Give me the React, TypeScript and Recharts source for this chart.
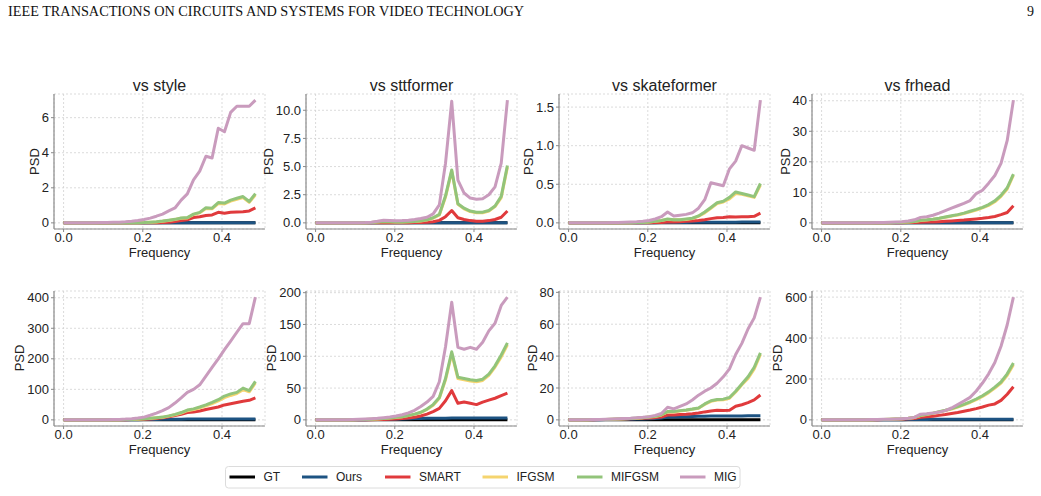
import React from "react";
import { LineChart, Line, XAxis, YAxis, CartesianGrid } from "recharts";

const FONT = "'Liberation Sans', Arial, sans-serif";
const SERIF = "'Liberation Serif', 'Times New Roman', serif";

// normalised frequency bins (rfft of a 64-sample window)
const freq = [0, 0.0156, 0.0313, 0.0469, 0.0625, 0.0781, 0.0938, 0.1094, 0.125, 0.1406, 0.1563, 0.1719, 0.1875, 0.2031, 0.2188, 0.2344, 0.25, 0.2656, 0.2813, 0.2969, 0.3125, 0.3281, 0.3438, 0.3594, 0.375, 0.3906, 0.4063, 0.4219, 0.4375, 0.4531, 0.4688, 0.4844];
const freqTicks = [0, 0.2, 0.4];

const gt = [0, 0, 0, 0, 0, 0, 0, 0, 0, 0, 0, 0, 0, 0, 0, 0, 0, 0, 0, 0, 0, 0, 0, 0, 0, 0, 0, 0, 0, 0, 0, 0];

// top row
const s1Ours = [0, 0, 0, 0, 0, 0, 0, 0, 0, 0, 0, 0, 0, 0, 0, 0, 0.01, 0.01, 0.01, 0.01, 0.01, 0.01, 0.01, 0.01, 0.01, 0.01, 0.01, 0.01, 0.01, 0.01, 0.01, 0.01];
const s1Smart = [0, 0, 0, 0, 0, 0, 0, 0, 0, 0, 0, 0, 0, 0, 0.005, 0.01, 0.02, 0.04, 0.08, 0.13, 0.18, 0.3, 0.35, 0.42, 0.45, 0.6, 0.55, 0.6, 0.62, 0.64, 0.68, 0.85];
const s1Ifgsm = [0, 0, 0, 0, 0, 0, 0, 0, 0, 0, 0, 0.005, 0.01, 0.02, 0.035, 0.055, 0.09, 0.14, 0.19, 0.26, 0.28, 0.48, 0.57, 0.82, 0.8, 1.1, 1.08, 1.24, 1.35, 1.44, 1.17, 1.6];
const s1Mifgsm = [0, 0, 0, 0, 0, 0, 0, 0, 0, 0, 0, 0.005, 0.01, 0.02, 0.04, 0.06, 0.1, 0.15, 0.2, 0.28, 0.3, 0.5, 0.6, 0.86, 0.84, 1.16, 1.13, 1.3, 1.4, 1.5, 1.22, 1.67];
const s1Mig = [0.01, 0.01, 0.01, 0.01, 0.01, 0.01, 0.015, 0.02, 0.03, 0.04, 0.06, 0.09, 0.13, 0.19, 0.27, 0.38, 0.5, 0.68, 0.85, 1.3, 1.65, 2.45, 2.95, 3.8, 3.7, 5.4, 5.2, 6.3, 6.65, 6.65, 6.65, 7.0];

const t1Ours = [0, 0, 0, 0, 0, 0, 0, 0, 0, 0, 0.01, 0.01, 0.01, 0.01, 0.01, 0.01, 0.01, 0.01, 0.01, 0.01, 0.01, 0.01, 0.01, 0.01, 0.01, 0.01, 0.01, 0.01, 0.01, 0.01, 0.01, 0.01];
const t1Smart = [0, 0, 0, 0, 0, 0, 0, 0, 0, 0, 0.005, 0.01, 0.01, 0.01, 0.01, 0.02, 0.03, 0.04, 0.06, 0.1, 0.22, 0.55, 1.1, 0.45, 0.3, 0.2, 0.15, 0.15, 0.2, 0.3, 0.5, 1.05];
const t1Ifgsm = [0, 0, 0, 0, 0, 0, 0, 0.01, 0.02, 0.03, 0.07, 0.11, 0.09, 0.07, 0.07, 0.09, 0.11, 0.17, 0.26, 0.42, 0.7, 2.3, 4.6, 1.65, 1.25, 1.0, 0.9, 0.9, 1.05, 1.45, 2.25, 4.95];
const t1Mifgsm = [0, 0, 0, 0, 0, 0, 0, 0.01, 0.02, 0.04, 0.08, 0.12, 0.1, 0.08, 0.08, 0.1, 0.12, 0.18, 0.28, 0.45, 0.75, 2.4, 4.7, 1.7, 1.3, 1.05, 0.95, 0.95, 1.1, 1.5, 2.35, 5.1];
const t1Mig = [0.01, 0.01, 0.01, 0.01, 0.01, 0.01, 0.01, 0.02, 0.03, 0.06, 0.14, 0.24, 0.22, 0.18, 0.2, 0.24, 0.3, 0.38, 0.5, 0.8, 1.6, 5.3, 10.8, 3.8, 2.65, 2.2, 2.1, 2.15, 2.5, 3.2, 5.3, 10.9];

const k1Ours = [0, 0, 0, 0, 0, 0, 0, 0, 0, 0, 0, 0, 0, 0.002, 0.003, 0.004, 0.005, 0.005, 0.006, 0.006, 0.007, 0.007, 0.008, 0.008, 0.008, 0.009, 0.009, 0.009, 0.01, 0.01, 0.01, 0.01];
const k1Smart = [0, 0, 0, 0, 0, 0, 0, 0, 0, 0, 0, 0, 0, 0.002, 0.004, 0.005, 0.01, 0.01, 0.015, 0.02, 0.025, 0.03, 0.04, 0.055, 0.065, 0.07, 0.08, 0.075, 0.08, 0.08, 0.085, 0.125];
const k1Ifgsm = [0, 0, 0, 0, 0, 0, 0, 0, 0, 0, 0.002, 0.004, 0.006, 0.01, 0.02, 0.03, 0.045, 0.04, 0.04, 0.045, 0.055, 0.085, 0.13, 0.19, 0.25, 0.27, 0.31, 0.38, 0.37, 0.35, 0.33, 0.49];
const k1Mifgsm = [0, 0, 0, 0, 0, 0, 0, 0, 0, 0, 0.002, 0.004, 0.006, 0.01, 0.02, 0.03, 0.05, 0.04, 0.04, 0.05, 0.06, 0.09, 0.14, 0.2, 0.26, 0.28, 0.33, 0.4, 0.38, 0.36, 0.34, 0.51];
const k1Mig = [0, 0, 0, 0, 0, 0.002, 0.003, 0.004, 0.006, 0.009, 0.012, 0.016, 0.022, 0.03, 0.05, 0.08, 0.14, 0.09, 0.1, 0.11, 0.13, 0.19, 0.3, 0.52, 0.5, 0.48, 0.7, 0.8, 1.0, 0.97, 0.94, 1.59];

const f1Ours = [0, 0, 0, 0, 0, 0, 0, 0, 0, 0, 0.01, 0.01, 0.02, 0.02, 0.03, 0.03, 0.04, 0.04, 0.04, 0.05, 0.05, 0.05, 0.05, 0.05, 0.05, 0.05, 0.05, 0.05, 0.05, 0.05, 0.05, 0.05];
const f1Smart = [0, 0, 0, 0, 0, 0, 0, 0, 0, 0, 0.01, 0.02, 0.03, 0.05, 0.08, 0.12, 0.2, 0.25, 0.32, 0.4, 0.5, 0.62, 0.75, 0.9, 1.1, 1.3, 1.5, 1.75, 2.1, 2.7, 3.4, 5.6];
const f1Ifgsm = [0, 0, 0, 0, 0, 0, 0, 0.01, 0.02, 0.03, 0.05, 0.07, 0.1, 0.16, 0.26, 0.42, 0.8, 0.95, 1.15, 1.45, 1.85, 2.2, 2.6, 3.05, 3.6, 4.2, 4.9, 5.7, 6.9, 8.7, 11.1, 15.6];
const f1Mifgsm = [0, 0, 0, 0, 0, 0, 0, 0.01, 0.02, 0.03, 0.05, 0.07, 0.1, 0.17, 0.28, 0.45, 0.85, 1.0, 1.2, 1.5, 1.9, 2.3, 2.7, 3.2, 3.8, 4.4, 5.1, 6.0, 7.2, 9.0, 11.5, 16.0];
const f1Mig = [0, 0, 0, 0, 0.01, 0.02, 0.03, 0.05, 0.07, 0.1, 0.14, 0.2, 0.28, 0.4, 0.6, 1.0, 1.8, 2.0, 2.5, 3.2, 4.0, 4.8, 5.6, 6.4, 7.3, 9.6, 10.7, 13.0, 15.5, 19.5, 27.0, 40.2];

// bottom row
const s2Ours = [0, 0, 0, 0, 0, 0.05, 0.1, 0.15, 0.2, 0.3, 0.4, 0.5, 0.7, 0.9, 1.1, 1.4, 1.8, 2.0, 2.2, 2.4, 2.5, 2.6, 2.7, 2.8, 2.9, 3.0, 3.0, 3.0, 3.1, 3.1, 3.2, 3.2];
const s2Smart = [0, 0, 0, 0, 0, 0.05, 0.1, 0.15, 0.2, 0.3, 0.5, 0.8, 1.2, 2.0, 3.0, 4.5, 7.0, 10, 14, 18, 24, 26, 29, 34, 38, 42, 49, 53, 57, 61, 64, 72];
const s2Ifgsm = [0, 0, 0, 0, 0, 0.05, 0.1, 0.15, 0.25, 0.5, 0.9, 1.4, 2.3, 3.3, 4.7, 6.6, 8.5, 12.3, 16.5, 22.5, 30, 34, 39, 46, 53, 62, 73, 80, 86, 99, 92, 121];
const s2Mifgsm = [0, 0, 0, 0, 0, 0.05, 0.1, 0.2, 0.3, 0.6, 1.0, 1.5, 2.5, 3.5, 5.0, 7.0, 9.0, 13, 18, 24, 32, 36, 42, 49, 57, 66, 78, 85, 90, 104, 96, 126];
const s2Mig = [0, 0, 0, 0, 0.1, 0.2, 0.4, 0.6, 1.0, 1.5, 2.5, 4, 6, 9, 15, 22, 30, 40, 55, 72, 90, 100, 115, 143, 172, 200, 230, 258, 287, 315, 315, 402];

const t2Ours = [0, 0, 0, 0, 0.05, 0.1, 0.15, 0.2, 0.3, 0.4, 0.5, 0.7, 0.9, 1.1, 1.4, 1.7, 2.0, 2.2, 2.4, 2.5, 2.6, 2.7, 2.8, 2.8, 2.9, 2.9, 3.0, 3.0, 3.0, 3.0, 3.1, 3.1];
const t2Smart = [0, 0, 0, 0, 0, 0.05, 0.1, 0.15, 0.2, 0.3, 0.5, 0.7, 1.0, 1.5, 2.0, 3.0, 4.0, 6.0, 9.0, 13, 18, 30, 46, 26, 28, 26, 24, 28, 31, 34, 38, 42];
const t2Ifgsm = [0.1, 0.1, 0.1, 0.1, 0.1, 0.2, 0.3, 0.5, 0.7, 1.0, 1.5, 2.1, 2.9, 3.8, 4.8, 6.7, 8.6, 11.5, 16.3, 23, 34, 63, 104, 65, 63, 61, 60, 62, 70, 83, 99, 118];
const t2Mifgsm = [0.1, 0.1, 0.1, 0.1, 0.1, 0.2, 0.3, 0.5, 0.7, 1.1, 1.6, 2.2, 3.0, 4.0, 5.0, 7.0, 9.0, 12, 17, 24, 35, 65, 107, 67, 65, 63, 62, 64, 72, 85, 102, 121];
const t2Mig = [0.1, 0.1, 0.1, 0.1, 0.2, 0.3, 0.5, 0.8, 1.2, 1.8, 2.5, 3.5, 4.5, 6, 8, 11, 15, 21, 28, 37, 60, 115, 185, 114, 111, 114, 111, 122, 140, 152, 180, 193];

const k2Ours = [0, 0.02, 0.04, 0.06, 0.08, 0.1, 0.15, 0.2, 0.25, 0.3, 0.4, 0.5, 0.6, 0.7, 0.9, 1.2, 1.8, 1.8, 1.9, 2.0, 2.1, 2.2, 2.3, 2.4, 2.5, 2.5, 2.5, 2.5, 2.5, 2.6, 2.6, 2.6];
const k2Smart = [0, 0.02, 0.04, 0.07, 0.1, 0.15, 0.22, 0.3, 0.4, 0.5, 0.65, 0.8, 1.0, 1.2, 1.4, 1.8, 3.0, 3.0, 3.3, 3.5, 3.8, 4.3, 5.0, 5.6, 6.0, 5.8, 6.0, 8.5, 9.5, 10.8, 12.5, 15.6];
const k2Ifgsm = [0, 0.02, 0.05, 0.1, 0.15, 0.2, 0.3, 0.4, 0.53, 0.68, 0.87, 1.07, 1.36, 1.75, 2.15, 3.1, 5.0, 5.0, 5.6, 6.0, 6.6, 7.3, 9.7, 11.6, 12.4, 12.6, 13.6, 17.5, 22, 26, 32, 41];
const k2Mifgsm = [0, 0.02, 0.05, 0.1, 0.15, 0.2, 0.3, 0.4, 0.55, 0.7, 0.9, 1.1, 1.4, 1.8, 2.2, 3.2, 5.2, 5.2, 5.8, 6.2, 6.8, 7.5, 10, 12, 12.8, 13, 14, 18, 22.5, 27, 33, 42];
const k2Mig = [0, 0.05, 0.1, 0.15, 0.2, 0.3, 0.4, 0.5, 0.65, 0.8, 1.0, 1.3, 1.6, 2.0, 2.8, 4.0, 7.9, 6.9, 8.5, 10, 12.5, 15.5, 18, 20, 23, 27, 32, 41, 48, 57, 64, 77];

const f2Ours = [0, 0, 0, 0, 0.05, 0.1, 0.15, 0.2, 0.3, 0.4, 0.5, 0.6, 0.8, 1.0, 1.2, 1.5, 2.0, 2.2, 2.4, 2.5, 2.6, 2.7, 2.8, 2.8, 2.9, 2.9, 3.0, 3.0, 3.0, 3.0, 3.0, 3.0];
const f2Smart = [0.1, 0.1, 0.1, 0.1, 0.1, 0.1, 0.2, 0.3, 0.5, 0.8, 1.2, 1.8, 2.5, 3.5, 5, 7, 13, 15, 18, 22, 26, 31, 36, 42, 48, 55, 63, 72, 78, 95, 125, 162];
const f2Ifgsm = [0.1, 0.1, 0.1, 0.1, 0.1, 0.2, 0.4, 0.6, 0.9, 1.35, 1.9, 2.9, 3.9, 5.3, 7.8, 11.6, 21, 26, 32, 39, 46, 53, 63, 74, 85, 99, 115, 133, 155, 180, 218, 270];
const f2Mifgsm = [0.1, 0.1, 0.1, 0.1, 0.1, 0.2, 0.4, 0.6, 0.9, 1.4, 2.0, 3.0, 4.0, 5.5, 8, 12, 22, 27, 33, 40, 47, 55, 65, 76, 88, 102, 118, 137, 160, 185, 225, 278];
const f2Mig = [0.1, 0.1, 0.1, 0.1, 0.2, 0.3, 0.5, 0.8, 1.2, 1.8, 2.5, 3.5, 4.5, 6, 8, 12, 28, 30, 33, 38, 45, 58, 75, 92, 110, 141, 180, 225, 280, 360, 465, 600];

const SERIES = [
  { key: "gt", name: "GT", color: "#000000" },
  { key: "ours", name: "Ours", color: "#1d5382" },
  { key: "smart", name: "SMART", color: "#e03a3c" },
  { key: "ifgsm", name: "IFGSM", color: "#f5d46e" },
  { key: "mifgsm", name: "MIFGSM", color: "#92c47a" },
  { key: "mig", name: "MIG", color: "#c99bbd" },
];

type Panel = {
  title?: string;
  ticks: number[];
  dec: number;
  ours: number[];
  smart: number[];
  ifgsm: number[];
  mifgsm: number[];
  mig: number[];
};

const topRow: Panel[] = [
  { title: "vs style", ticks: [0, 2, 4, 6], dec: 0, ours: s1Ours, smart: s1Smart, ifgsm: s1Ifgsm, mifgsm: s1Mifgsm, mig: s1Mig },
  { title: "vs sttformer", ticks: [0, 2.5, 5, 7.5, 10], dec: 1, ours: t1Ours, smart: t1Smart, ifgsm: t1Ifgsm, mifgsm: t1Mifgsm, mig: t1Mig },
  { title: "vs skateformer", ticks: [0, 0.5, 1, 1.5], dec: 1, ours: k1Ours, smart: k1Smart, ifgsm: k1Ifgsm, mifgsm: k1Mifgsm, mig: k1Mig },
  { title: "vs frhead", ticks: [0, 10, 20, 30, 40], dec: 0, ours: f1Ours, smart: f1Smart, ifgsm: f1Ifgsm, mifgsm: f1Mifgsm, mig: f1Mig },
];
const bottomRow: Panel[] = [
  { ticks: [0, 100, 200, 300, 400], dec: 0, ours: s2Ours, smart: s2Smart, ifgsm: s2Ifgsm, mifgsm: s2Mifgsm, mig: s2Mig },
  { ticks: [0, 50, 100, 150, 200], dec: 0, ours: t2Ours, smart: t2Smart, ifgsm: t2Ifgsm, mifgsm: t2Mifgsm, mig: t2Mig },
  { ticks: [0, 20, 40, 60, 80], dec: 0, ours: k2Ours, smart: k2Smart, ifgsm: k2Ifgsm, mifgsm: k2Mifgsm, mig: k2Mig },
  { ticks: [0, 200, 400, 600], dec: 0, ours: f2Ours, smart: f2Smart, ifgsm: f2Ifgsm, mifgsm: f2Mifgsm, mig: f2Mig },
];

// layout (px)
const COL_X = [54, 306, 559, 812];
const ROW_Y = [94, 290.5];
const PW = 211;
const PH = 135;
const YW = 50;
const MT = 8;
const MR = 6;
const XH = 30;
const AXIS = "#8a8a8a";
const INK = "#222";

// matplotlib-style 5% padding around the data range
function pad(lo: number, hi: number): [number, number] {
  const r = hi - lo;
  return [lo - 0.05 * r, hi + 0.05 * r];
}
const xDomain = pad(freq[0], freq[freq.length - 1]);

function labelWidth(s: string) {
  let w = 0;
  for (const c of s) w += c === "." ? 3.6 : 7.23;
  return w;
}

function PanelChart({ p, x, y }: { p: Panel; x: number; y: number }) {
  const rows = freq.map((f, i) => ({
    f,
    gt: gt[i],
    ours: p.ours[i],
    smart: p.smart[i],
    ifgsm: p.ifgsm[i],
    mifgsm: p.mifgsm[i],
    mig: p.mig[i],
  }));
  const all = [...gt, ...p.ours, ...p.smart, ...p.ifgsm, ...p.mifgsm, ...p.mig];
  const yDomain = pad(Math.min(...all), Math.max(...all));
  const fmt = (v: number) => v.toFixed(p.dec);
  return (
    <div style={{ position: "absolute", left: x - YW, top: y - MT }}>
      <LineChart width={YW + PW + MR} height={MT + PH + XH} data={rows}
        margin={{ top: MT, right: MR, bottom: 0, left: 0 }}>
        <CartesianGrid stroke="#d2d2d2" strokeDasharray="2 2" strokeWidth={0.8} />
        <XAxis dataKey="f" type="number" domain={xDomain} ticks={freqTicks} interval={0}
          allowDataOverflow height={XH} tickSize={3} tickMargin={1}
          tickFormatter={(v: number) => v.toFixed(1)}
          axisLine={{ stroke: AXIS, strokeWidth: 1.2 }} tickLine={{ stroke: AXIS }}
          tick={{ fill: INK, fontSize: 13, fontFamily: FONT }} />
        <YAxis type="number" domain={yDomain} ticks={p.ticks} interval={0}
          allowDataOverflow width={YW} tickSize={3} tickMargin={2} tickFormatter={fmt}
          axisLine={{ stroke: AXIS, strokeWidth: 1.2 }} tickLine={{ stroke: AXIS }}
          tick={{ fill: INK, fontSize: 13, fontFamily: FONT }} />
        {SERIES.map((s) => (
          <Line key={s.key} dataKey={s.key} name={s.name} type="linear" stroke={s.color}
            strokeWidth={3} dot={false} activeDot={false} strokeLinejoin="round"
            isAnimationActive={false} />
        ))}
      </LineChart>
    </div>
  );
}

function PanelText({ p, x, y }: { p: Panel; x: number; y: number }) {
  const maxW = Math.max(...p.ticks.map((t) => labelWidth(t.toFixed(p.dec))));
  const lx = x - 12.5 - maxW;
  const cy = y + PH / 2;
  return (
    <g fontFamily={FONT} fill={INK}>
      {p.title && (
        <text x={x + PW / 2} y={y - 3.5} fontSize={16} textAnchor="middle">{p.title}</text>
      )}
      <text x={x + PW / 2} y={y + PH + 28.3} fontSize={13} textAnchor="middle">Frequency</text>
      <text x={lx} y={cy} fontSize={13} textAnchor="middle" dominantBaseline="central"
        transform={`rotate(-90 ${lx} ${cy})`}>PSD</text>
    </g>
  );
}

// shared legend along the bottom
const legendX = [229.5, 302, 385, 482.5, 577, 680];

function Legend() {
  return (
    <g fontFamily={FONT} fontSize={12} fill={INK}>
      <rect x={225.5} y={466.5} width={514.5} height={21.5} rx={3} fill="#fff" stroke="#dcdcdc" />
      {SERIES.map((s, i) => (
        <g key={s.key}>
          <line x1={legendX[i]} x2={legendX[i] + 25.5} y1={477} y2={477} stroke={s.color} strokeWidth={3} />
          <text x={legendX[i] + 34} y={481.3}>{s.name}</text>
        </g>
      ))}
    </g>
  );
}

export default function App() {
  return (
    <div style={{ position: "absolute", left: 0, top: 0, width: 1041, height: 496, background: "#fff", overflow: "hidden" }}>
      {topRow.map((p, i) => <PanelChart key={`t${i}`} p={p} x={COL_X[i]} y={ROW_Y[0]} />)}
      {bottomRow.map((p, i) => <PanelChart key={`b${i}`} p={p} x={COL_X[i]} y={ROW_Y[1]} />)}
      <svg width={1041} height={496} style={{ position: "absolute", left: 0, top: 0, pointerEvents: "none" }}>
        <text x={8} y={16} fontFamily={SERIF} fontSize={14} fill="#111" textLength={516} lengthAdjust="spacingAndGlyphs">
          IEEE TRANSACTIONS ON CIRCUITS AND SYSTEMS FOR VIDEO TECHNOLOGY
        </text>
        <text x={1034} y={16} fontFamily={SERIF} fontSize={14} fill="#111" textAnchor="end">9</text>
        {topRow.map((p, i) => <PanelText key={`tt${i}`} p={p} x={COL_X[i]} y={ROW_Y[0]} />)}
        {bottomRow.map((p, i) => <PanelText key={`bt${i}`} p={p} x={COL_X[i]} y={ROW_Y[1]} />)}
        <Legend />
      </svg>
    </div>
  );
}
